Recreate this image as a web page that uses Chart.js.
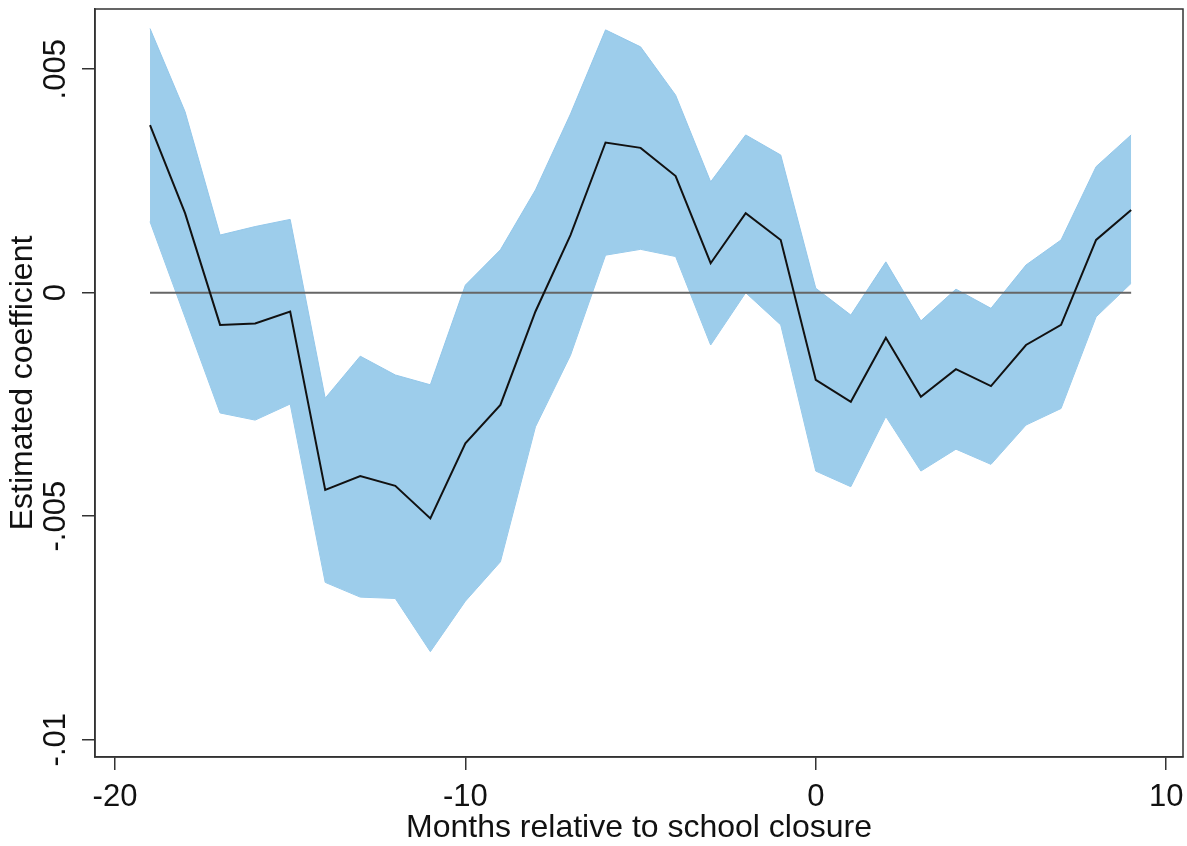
<!DOCTYPE html>
<html>
<head>
<meta charset="utf-8">
<script src="https://cdn.jsdelivr.net/npm/chart.js@4.4.1/dist/chart.umd.min.js"></script>
<style>
  html, body { margin:0; padding:0; background:#fff; }
  canvas { display:block; }
</style>
</head>
<body>
<canvas id="eventChart" width="1187" height="846"></canvas>
<script>
// event-study estimates, in units of 0.001
const months = [-19,-18,-17,-16,-15,-14,-13,-12,-11,-10,-9,-8,-7,-6,-5,-4,-3,-2,-1,0,1,2,3,4,5,6,7,8,9];
const coef  = [3.75,1.78,-0.72,-0.69,-0.42,-4.41,-4.10,-4.32,-5.05,-3.37,-2.51,-0.42,1.29,3.36,3.24,2.61,0.66,1.78,1.18,-1.95,-2.44,-1.01,-2.33,-1.71,-2.09,-1.17,-0.72,1.18,1.85];
const upper = [5.91,4.05,1.29,1.48,1.64,-2.36,-1.42,-1.84,-2.06,0.17,0.96,2.30,4.00,5.88,5.50,4.42,2.48,3.53,3.08,0.10,-0.50,0.69,-0.63,0.08,-0.35,0.62,1.18,2.82,3.53];
const lower = [1.59,-0.55,-2.69,-2.85,-2.49,-6.48,-6.81,-6.84,-8.03,-6.90,-6.02,-3.00,-1.40,0.84,0.97,0.81,-1.17,0.00,-0.72,-3.99,-4.34,-2.77,-3.99,-3.50,-3.84,-2.96,-2.59,-0.54,0.21];

const xTicks = [-20,-10,0,10];
const yTicks = [0.005,0,-0.005,-0.01];
const yTickLabels = ['.005','0','-.005','-.01'];

const FONT = "'Liberation Sans', Arial, sans-serif";
const AXIS = '#333';

const pts = arr => arr.map((v,i) => ({ x: months[i], y: v/1000 }));

// black frame round the plot region
const frame = {
  id:'frame',
  afterDraw(chart){
    const {ctx, chartArea:a} = chart;
    ctx.save();
    ctx.strokeStyle = AXIS;
    ctx.lineWidth = 1.5;
    ctx.strokeRect(a.left, a.top, a.right-a.left, a.bottom-a.top);
    ctx.restore();
  }
};

new Chart(document.getElementById('eventChart'), {
  type:'line',
  data:{ datasets:[
    { data: pts(coef), borderColor:'#111', borderWidth:2, pointRadius:0, fill:false, order:1 },
    { data: [{x:months[0],y:0},{x:months[months.length-1],y:0}], borderColor:'#666', borderWidth:2, pointRadius:0, fill:false, order:2 },
    { data: pts(upper), borderColor:'#93c7ea', borderWidth:1, pointRadius:0, backgroundColor:'#9dcdeb', fill:'+1', order:3 },
    { data: pts(lower), borderColor:'#93c7ea', borderWidth:1, pointRadius:0, fill:false, order:4 }
  ]},
  options:{
    responsive:false, animation:false, devicePixelRatio:1,
    layout:{ padding:{ top:9, right:4, left:0, bottom:0 } },
    plugins:{ legend:{display:false}, tooltip:{enabled:false} },
    scales:{
      x:{
        type:'linear', min:-20.57, max:10.48,
        afterBuildTicks: s => { s.ticks = xTicks.map(v => ({value:v})); },
        afterFit: s => { s.height = 89; s.paddingLeft = 0; s.paddingRight = 0; },
        grid:{ drawOnChartArea:false, tickLength:13, color:AXIS, lineWidth:1.5 },
        border:{ color:AXIS, width:1.5 },
        ticks:{ color:'#111', padding:9, maxRotation:0, autoSkip:false, font:{family:FONT, size:31} },
        title:{ display:true, text:'Months relative to school closure', color:'#111', padding:{top:0,bottom:-1}, font:{family:FONT, size:32} }
      },
      y:{
        type:'linear', min:-0.010387, max:0.006347,
        afterBuildTicks: s => { s.ticks = yTicks.map(v => ({value:v})); },
        afterFit: s => { s.width = 95; s.paddingTop = 0; s.paddingBottom = 0; },
        grid:{ drawOnChartArea:false, tickLength:13, color:AXIS, lineWidth:1.5 },
        border:{ color:AXIS, width:1.5 },
        ticks:{
          color:'#111', padding:-10, minRotation:90, maxRotation:90, crossAlign:'center', autoSkip:false,
          font:{family:FONT, size:31},
          callback: v => yTickLabels[yTicks.indexOf(v)] ?? ''
        },
        title:{ display:true, text:'Estimated coefficient', color:'#111', padding:{top:4,bottom:0}, font:{family:FONT, size:32} }
      }
    }
  },
  plugins:[frame]
});
</script>
</body>
</html>
